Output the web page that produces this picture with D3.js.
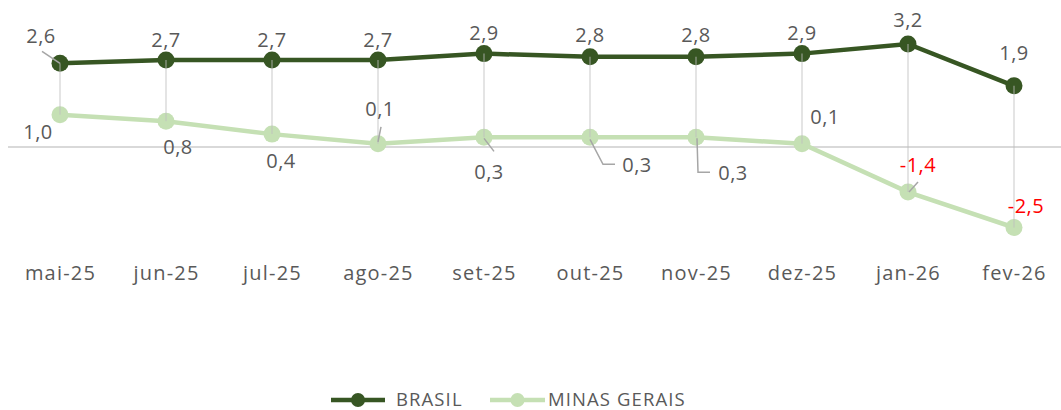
<!DOCTYPE html>
<html><head><meta charset="utf-8">
<script src="https://cdn.jsdelivr.net/npm/d3@7"></script>
<style>body{margin:0;background:#fff}svg{display:block}</style>
</head><body>
<svg id="c" width="1061" height="410"></svg>
<script>
const categories = ["mai-25","jun-25","jul-25","ago-25","set-25","out-25","nov-25","dez-25","jan-26","fev-26"];
const brasil = [2.6,2.7,2.7,2.7,2.9,2.8,2.8,2.9,3.2,1.9];
const minas = [1.0,0.8,0.4,0.1,0.3,0.3,0.3,0.1,-1.4,-2.5];
const seriesNames = ["BRASIL","MINAS GERAIS"];

// label layout (pixel offsets from point)
const brasilLabelOff = [[-19,-28],[0,-21],[0,-21],[0,-21],[0,-21],[0,-22],[0,-22],[0,-21],[0,-24],[0,-33]];
const minasLabelOff = [[-22,17],[12,25],[9,26],[2,-35],[5,34],[47,27],[37,35],[23,-27],[10,-28],[12,-22]];
// leader lines: point offsets from the data point, null if none
const brasilLeaders = [[[0,0],[-18,-12]],null,null,null,null,null,null,null,null,null];
const minasLeaders = [null,null,null,[[0,-2],[3,-17]],[[0,1],[10,14]],[[0,2],[13,27],[25,27]],[[1,1],[2,35],[14,35]],null,[[1,0],[10,-10]],null];

const svg = d3.select("#c");
const font = "'Open Sans', sans-serif";
const x = d3.scalePoint().domain(categories).range([7,1067]).padding(0.5);
const y = d3.scaleLinear().domain([0,1]).range([147,114.8]);

const cDark = "#375623", cLight = "#C5E0B4", gray = "#d9d9d9", txt = "#595959";

// zero axis
svg.append("line").attr("x1",8).attr("x2",1061).attr("y1",y(0)).attr("y2",y(0))
  .attr("stroke",gray).attr("stroke-width",2);

const line = d3.line().x((d,i)=>x(categories[i])).y(d=>y(d));
svg.append("path").datum(minas).attr("d",line).attr("fill","none").attr("stroke",cLight).attr("stroke-width",4.5);
svg.append("path").datum(brasil).attr("d",line).attr("fill","none").attr("stroke",cDark).attr("stroke-width",4.5);

svg.selectAll(".mm").data(minas).enter().append("circle")
  .attr("cx",(d,i)=>x(categories[i])).attr("cy",d=>y(d)).attr("r",8.5).attr("fill",cLight);
svg.selectAll(".mb").data(brasil).enter().append("circle")
  .attr("cx",(d,i)=>x(categories[i])).attr("cy",d=>y(d)).attr("r",8.5).attr("fill",cDark);

// high-low lines (drawn on top)
svg.selectAll(".hl").data(categories).enter().append("line")
  .attr("x1",d=>x(d)).attr("x2",d=>x(d))
  .attr("y1",(d,i)=>y(Math.max(brasil[i],minas[i])))
  .attr("y2",(d,i)=>y(Math.min(brasil[i],minas[i])))
  .attr("stroke","#bfbfbf").attr("stroke-opacity",0.55).attr("stroke-width",1.5);

const fmt = v => d3.format(".1f")(v).replace(".",",").replace("−","-");

function leaders(vals, lead){
  vals.forEach((v,i)=>{
    if(!lead[i]) return;
    const px = x(categories[i]), py = y(v);
    const pts = lead[i].map(p=>[px+p[0],py+p[1]]);
    svg.append("path").attr("d",d3.line()(pts)).attr("fill","none")
      .attr("stroke","#a6a6a6").attr("stroke-width",1.5);
  });
}
leaders(brasil, brasilLeaders);
leaders(minas, minasLeaders);

function labels(vals, off){
  svg.selectAll(null).data(vals).enter().append("text")
    .attr("x",(d,i)=>x(categories[i])+off[i][0])
    .attr("y",(d,i)=>y(d)+off[i][1])
    .attr("text-anchor","middle").attr("dominant-baseline","central")
    .attr("font-family",font).attr("font-size",20).attr("letter-spacing","0.5px")
    .attr("fill",d=>d<0?"#FF0000":txt)
    .text(d=>fmt(d));
}
labels(brasil, brasilLabelOff);
labels(minas, minasLabelOff);

// x axis labels
const ax = svg.append("g").attr("transform","translate(0,273)")
  .call(d3.axisBottom(x).tickSize(0).tickPadding(0));
ax.select(".domain").remove();
ax.selectAll("text").attr("font-family",font).attr("font-size",20).attr("letter-spacing","1.2px")
  .attr("fill",txt).attr("dy","0.35em").attr("y",0);

// legend
const legend = [{name:seriesNames[0],c:cDark,x1:331,x2:385,tx:396},{name:seriesNames[1],c:cLight,x1:490,x2:545,tx:548}];
const lg = svg.selectAll(".lg").data(legend).enter().append("g");
lg.append("line").attr("x1",d=>d.x1).attr("x2",d=>d.x2).attr("y1",400).attr("y2",400)
  .attr("stroke",d=>d.c).attr("stroke-width",4.5);
lg.append("circle").attr("cx",d=>(d.x1+d.x2)/2).attr("cy",400).attr("r",7).attr("fill",d=>d.c);
lg.append("text").attr("x",d=>d.tx).attr("y",398).attr("dominant-baseline","central")
  .attr("font-family",font).attr("font-size",18.5).attr("letter-spacing","1.1px").attr("fill",txt).text(d=>d.name);
</script>
</body></html>
